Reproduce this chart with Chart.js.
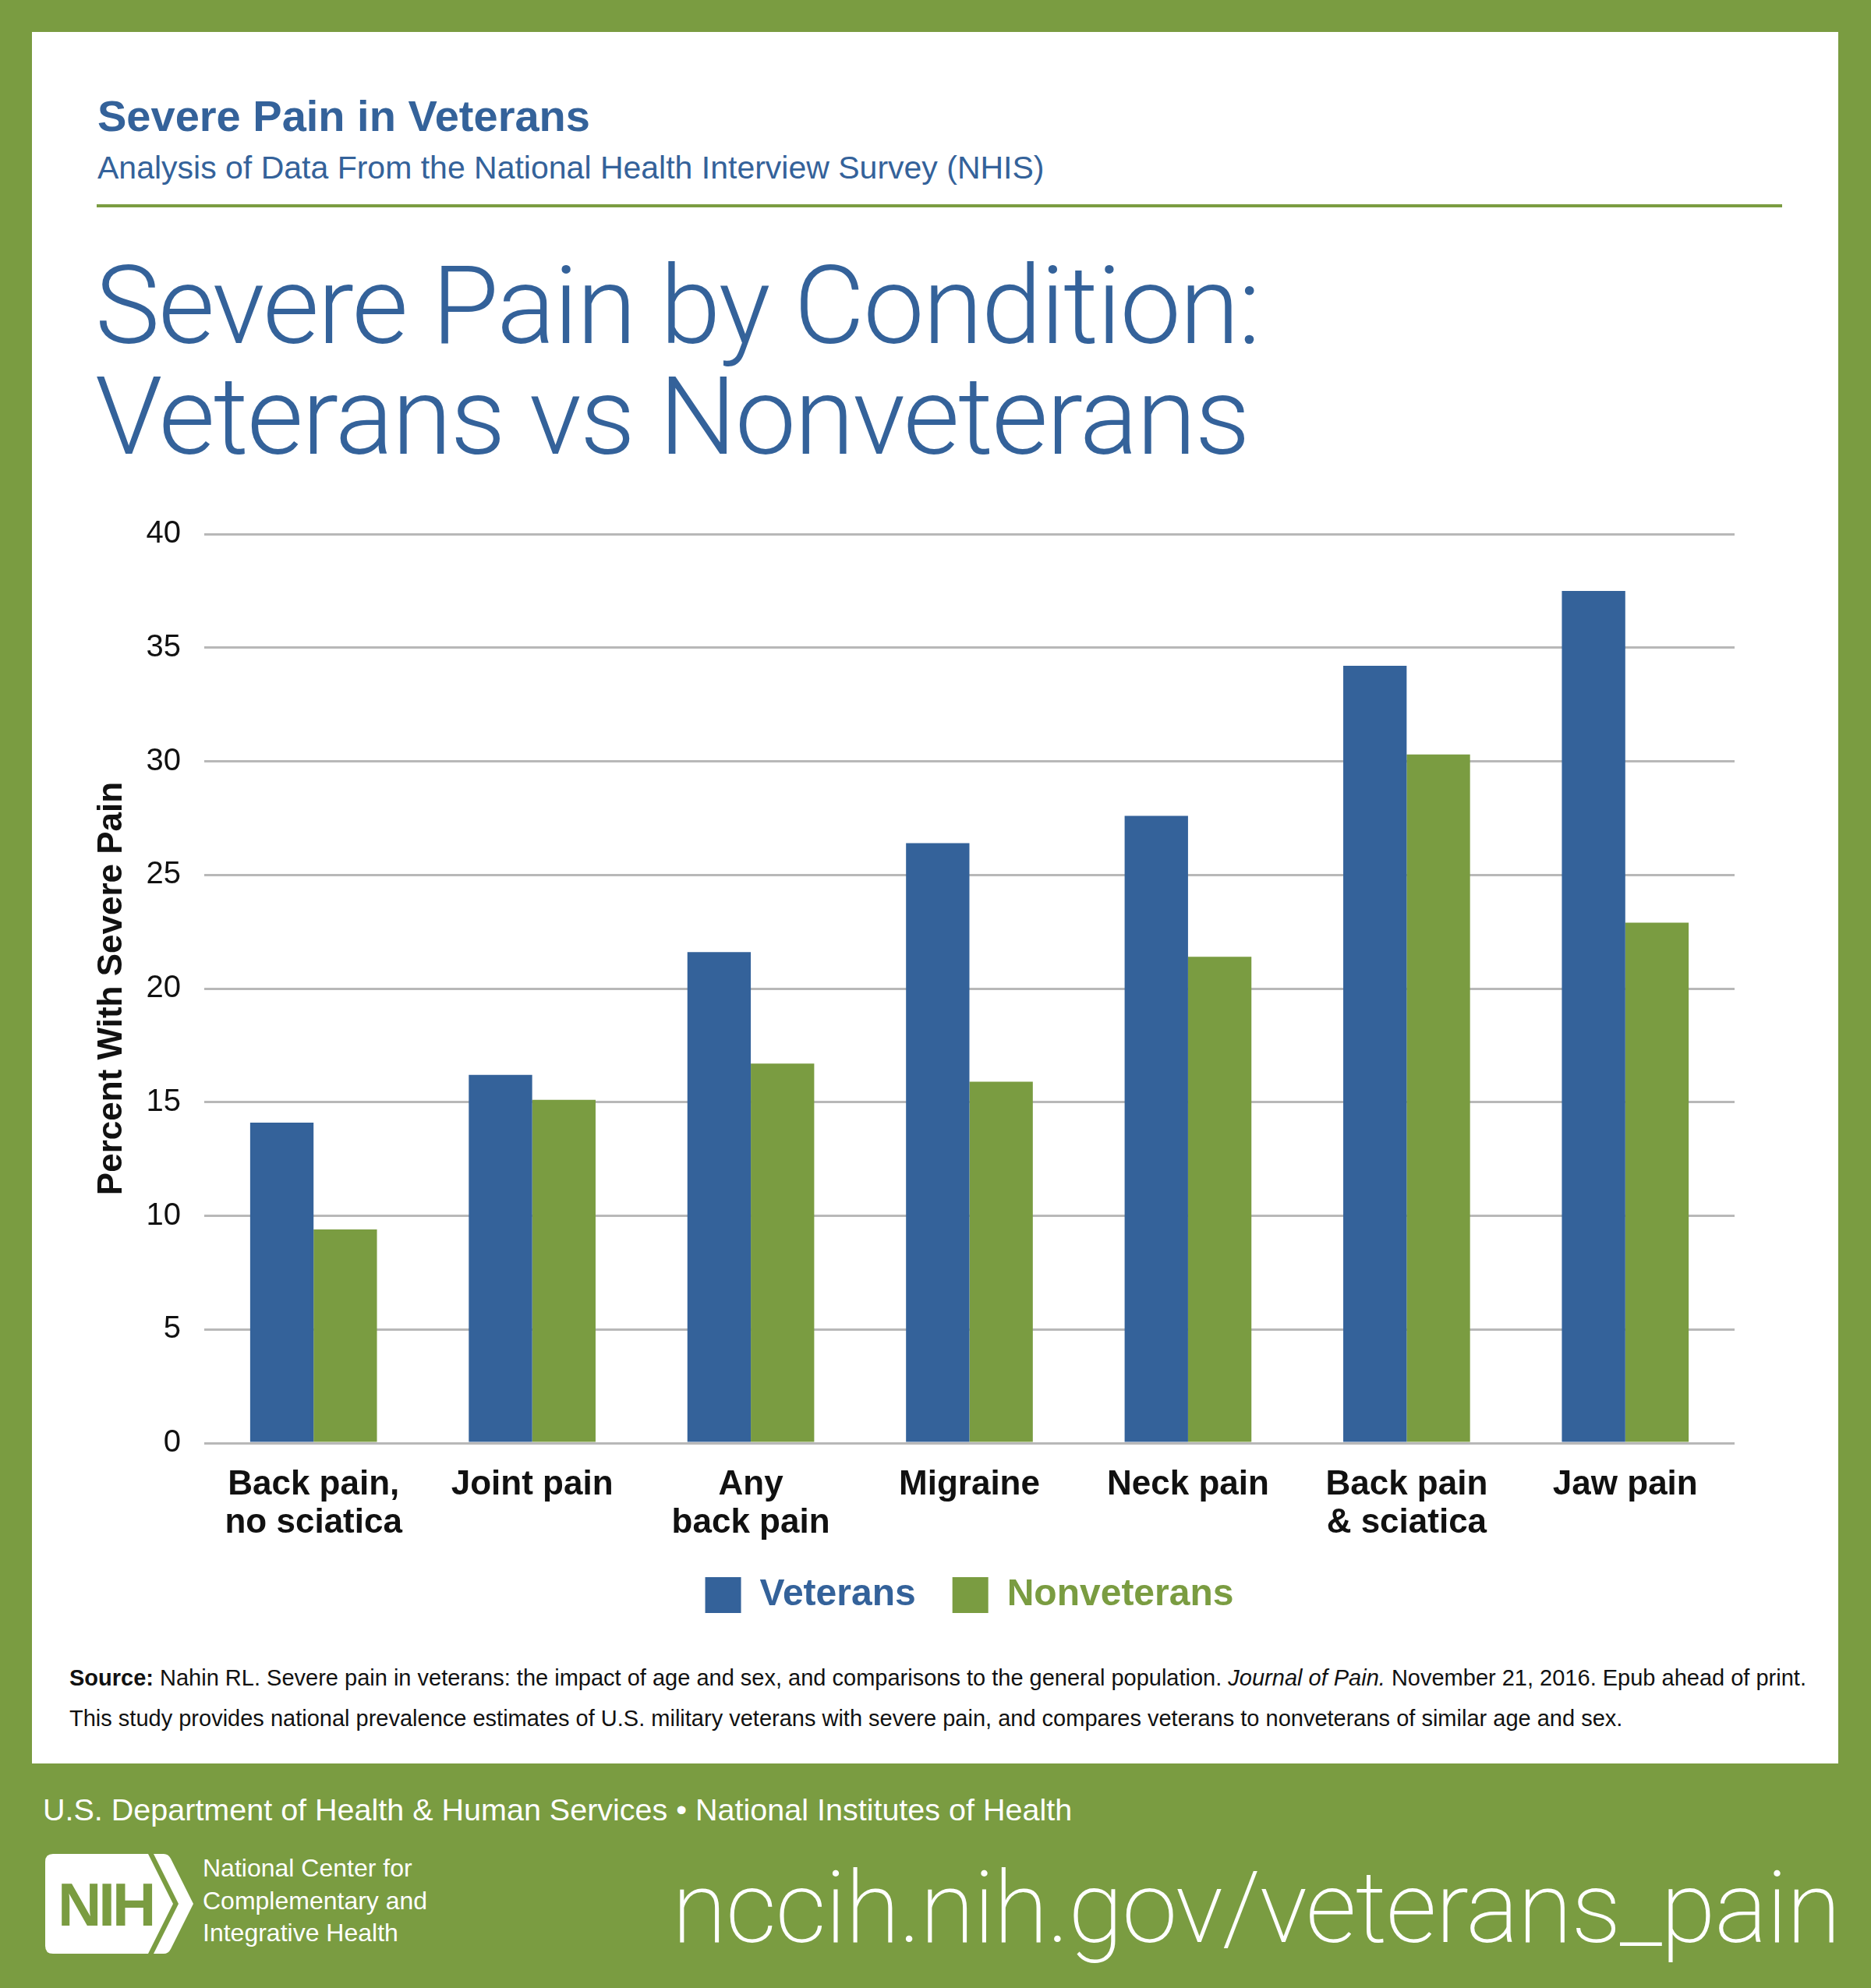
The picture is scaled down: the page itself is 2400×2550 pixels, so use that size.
<!DOCTYPE html>
<html>
<head>
<meta charset="utf-8">
<title>Severe Pain by Condition: Veterans vs Nonveterans</title>
<script src="https://cdn.jsdelivr.net/npm/chart.js@4.4.1/dist/chart.umd.min.js"></script>
<style>
    body {
        margin: 0;
        width: 2400px;
        height: 2550px;
        background: #7a9c41;
        position: relative;
        overflow: hidden;
        font-family: "Liberation Sans", Arial, sans-serif;
    }
    .panel { position: absolute; left: 41px; top: 41px; width: 2317px; height: 2221px; background: #fff; }
    .abs { position: absolute; white-space: nowrap; }
    #topTitle { left: 125px; top: 121px; font-size: 56px; line-height: 56px; font-weight: bold; color: #34629a; }
    #subTitle { left: 125px; top: 195px; font-size: 41px; line-height: 41px; color: #34629a; }
    #rule { left: 124px; top: 262px; width: 2162px; height: 4px; background: #7a9c41; }
    #bigTitle { left: 122px; top: 321px; font-family: Roboto, "Liberation Sans", sans-serif; font-weight: 300;
                font-size: 140px; line-height: 142px; color: #34629a; letter-spacing: -2px; }
    #chartBox { position: absolute; left: 0; top: 630px; width: 2400px; height: 1450px; }
    #source { left: 89px; top: 2126px; font-size: 29px; line-height: 52px; color: #111; }
    #footer1 { left: 55px; top: 2302px; font-size: 39.5px; line-height: 39.5px; color: #fff; }
    #logo { left: 58px; top: 2378px; }
    #logoText { left: 260px; top: 2376px; font-size: 32px; line-height: 41.5px; color: #fff; }
    #url { left: 862px; top: 2383px; font-family: Roboto, "Liberation Sans", sans-serif; font-weight: 200;
           font-size: 128px; line-height: 128px; color: #fff; letter-spacing: -1.5px; }
</style>
</head>
<body>
<div class="panel"></div>
<div class="abs" id="topTitle">Severe Pain in Veterans</div>
<div class="abs" id="subTitle">Analysis of Data From the National Health Interview Survey (NHIS)</div>
<div class="abs" id="rule"></div>
<div class="abs" id="bigTitle">Severe Pain by Condition:<br>Veterans vs Nonveterans</div>

<div id="chartBox"><canvas id="painChart"></canvas></div>

<div class="abs" id="source"><b>Source:</b> Nahin RL. Severe pain in veterans: the impact of age and sex, and comparisons to the general population. <i>Journal of Pain.</i> November 21, 2016. Epub ahead of print.<br>This study provides national prevalence estimates of U.S. military veterans with severe pain, and compares veterans to nonveterans of similar age and sex.</div>

<div class="abs" id="footer1">U.S. Department of Health &amp; Human Services &bull; National Institutes of Health</div>
<svg class="abs" id="logo" width="190" height="128" viewBox="0 0 190 128">
    <!-- NIH block with arrow edge, then the thin chevron -->
    <path d="M10 0 H132 L164 64 L132 128 H10 Q0 128 0 118 V10 Q0 0 10 0 Z" fill="#fff"/>
    <path d="M139 0 H152 Q158 0 161 6 L190 64 L161 122 Q158 128 152 128 H139 L171 64 Z" fill="#fff"/>
    <text x="16" y="92" font-family="Liberation Sans, Arial" font-weight="bold" font-size="78" fill="#7a9c41" letter-spacing="-4">NIH</text>
</svg>
<div class="abs" id="logoText">National Center for<br>Complementary and<br>Integrative Health</div>
<div class="abs" id="url">nccih.nih.gov/veterans_pain</div>

<script>
var conditions = [['Back pain,', 'no sciatica'], 'Joint pain', ['Any', 'back pain'], 'Migraine', 'Neck pain', ['Back pain', '& sciatica'], 'Jaw pain'];
var veterans = [14.1, 16.2, 21.6, 26.4, 27.6, 34.2, 37.5];
var nonveterans = [9.4, 15.1, 16.7, 15.9, 21.4, 30.3, 22.9];
var yTickValues = [0, 5, 10, 15, 20, 25, 30, 35, 40];
var seriesNames = ['Veterans', 'Nonveterans'];

var blue = '#34629a';
var green = '#7a9c41';

document.addEventListener("DOMContentLoaded", function () {
    Chart.defaults.font.family = '"Liberation Sans", Arial, sans-serif';

    var ctx = document.getElementById('painChart').getContext('2d');
    var chart = new Chart(ctx, {
        type: 'bar',
        data: {
            labels: conditions,
            datasets: [{
                label: seriesNames[0],
                data: veterans,
                backgroundColor: blue,
                borderWidth: 0
            },
            {
                label: seriesNames[1],
                data: nonveterans,
                backgroundColor: green,
                borderWidth: 0
            }]
        },
        options: {
            responsive: true,
            maintainAspectRatio: false,
            animation: false,
            datasets: {
                bar: { categoryPercentage: 0.58, barPercentage: 1.0 }
            },
            layout: {
                padding: { left: 40, right: 175, top: 55, bottom: 0 }
            },
            scales: {
                x: {
                    grid: { display: false },
                    border: { display: false },
                    ticks: {
                        color: '#111',
                        autoSkip: false,
                        maxRotation: 0,
                        padding: 22,
                        font: { size: 44, weight: 'bold', lineHeight: 1.1 }
                    },
                    // labels are clipped to the axis box, so keep it tall enough for two lines
                    afterFit: function (scale) { scale.height = 124; }
                },
                y: {
                    min: yTickValues[0],
                    max: yTickValues[yTickValues.length - 1],
                    border: { display: false },
                    grid: { color: '#b8b8b8', lineWidth: 3, drawTicks: false },
                    ticks: {
                        stepSize: yTickValues[1] - yTickValues[0],
                        color: '#111',
                        padding: 30,
                        font: { size: 40 }
                    },
                    title: {
                        display: true,
                        text: 'Percent With Severe Pain',
                        color: '#111',
                        padding: { top: 77, bottom: 0 },
                        font: { size: 44, weight: 'bold', lineHeight: 1.2 }
                    },
                    afterFit: function (scale) { scale.width = 222; }
                }
            },
            plugins: {
                legend: {
                    position: 'bottom',
                    fullSize: false,
                    labels: {
                        boxWidth: 46,
                        boxHeight: 46,
                        padding: 47,
                        font: { size: 48, weight: 'bold' },
                        generateLabels: function (chart) {
                            var items = Chart.defaults.plugins.legend.labels.generateLabels(chart);
                            items.forEach(function (item, i) {
                                item.fontColor = i === 0 ? blue : green;
                                item.lineWidth = 0;
                            });
                            return items;
                        }
                    }
                },
                tooltip: { enabled: false }
            }
        }
    });
});
</script>
</body>
</html>
